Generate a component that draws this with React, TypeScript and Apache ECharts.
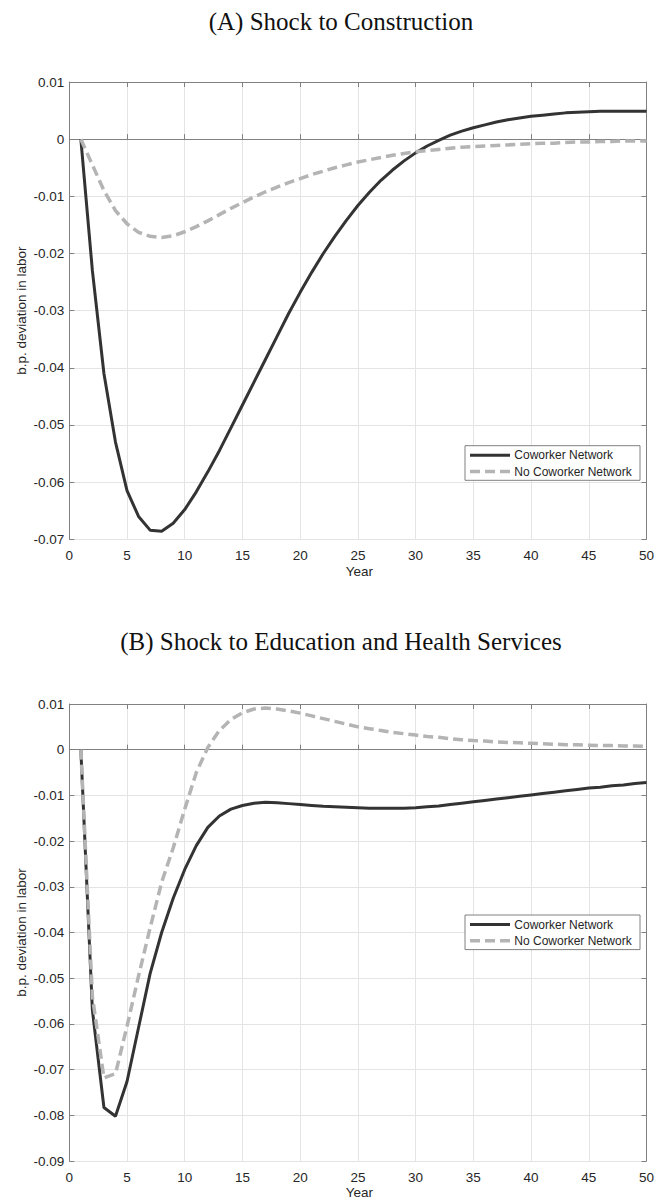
import React, { useEffect, useRef } from "react";
import * as echarts from "echarts";

const years = Array.from({ length: 50 }, (_, i) => i + 1);

const constructionNetwork = [
  0, -0.023, -0.041, -0.053, -0.0615, -0.066, -0.0684, -0.0686, -0.0672, -0.0648,
  -0.0617, -0.0582, -0.0545, -0.0505, -0.0465, -0.0425, -0.0385, -0.0345, -0.0305, -0.0268,
  -0.0233, -0.02, -0.017, -0.0142, -0.0116, -0.0093, -0.0072, -0.0054, -0.0038, -0.0024,
  -0.0012, -0.0002, 0.0007, 0.0014, 0.002, 0.0025, 0.003, 0.0034, 0.0037, 0.004,
  0.0042, 0.0044, 0.0046, 0.0047, 0.0048, 0.0049, 0.0049, 0.0049, 0.0049, 0.0049,
];
const constructionNoNetwork = [
  0, -0.0045, -0.009, -0.0125, -0.0148, -0.0163, -0.017, -0.0172, -0.0169, -0.0162,
  -0.0153, -0.0143, -0.0132, -0.0121, -0.0111, -0.0101, -0.0092, -0.0084, -0.0076, -0.0069,
  -0.0062, -0.0056, -0.005, -0.0045, -0.004, -0.0036, -0.0032, -0.0028, -0.0025, -0.0022,
  -0.002, -0.0018, -0.0016, -0.0014, -0.0013, -0.0012, -0.0011, -0.001, -0.0009, -0.0008,
  -0.0007, -0.0007, -0.0006, -0.0005, -0.0005, -0.0004, -0.0004, -0.0003, -0.0003, -0.0003,
];
const educationNetwork = [
  0, -0.057, -0.0783, -0.0802, -0.0726, -0.0608, -0.049, -0.04, -0.0325, -0.0262,
  -0.021, -0.017, -0.0145, -0.013, -0.0122, -0.0117, -0.0115, -0.0116, -0.0118, -0.012,
  -0.0122, -0.0124, -0.0125, -0.0126, -0.0127, -0.0128, -0.0128, -0.0128, -0.0128, -0.0127,
  -0.0125, -0.0123, -0.012, -0.0117, -0.0114, -0.0111, -0.0108, -0.0105, -0.0102, -0.0099,
  -0.0096, -0.0093, -0.009, -0.0087, -0.0084, -0.0082, -0.0079, -0.0077, -0.0074, -0.0072,
];
const educationNoNetwork = [
  0, -0.054, -0.0718, -0.0709, -0.0605, -0.0495, -0.039, -0.029, -0.0215, -0.013,
  -0.005, 0.0005, 0.0042, 0.0066, 0.0081, 0.0089, 0.0091, 0.0089, 0.0085, 0.008,
  0.0074, 0.0068, 0.0062, 0.0056, 0.005, 0.0046, 0.0042, 0.0038, 0.0035, 0.0032,
  0.0029, 0.0027, 0.0024, 0.0022, 0.002, 0.0019, 0.0017, 0.0016, 0.0015, 0.0014,
  0.0013, 0.0012, 0.0011, 0.0011, 0.001, 0.0009, 0.0009, 0.0008, 0.0008, 0.0007,
];

const titleA = "(A) Shock to Construction";
const titleB = "(B) Shock to Education and Health Services";
const seriesNames = ["Coworker Network", "No Coworker Network"];
const yAxisName = "b.p. deviation in labor";
const xAxisName = "Year";

const TEXT = "#262626";
const AXIS = "#808080";
const GRID = "#e4e4e4";
const SOLID = "#333333";
const DASH = "#b4b4b4";
const SANS = "'Liberation Sans', Arial, Helvetica, sans-serif";
const SERIF = "'Liberation Serif', 'Times New Roman', serif";

const fmt = (v: number) => {
  const r = Math.round(v * 100) / 100;
  return r === 0 ? "0" : String(r);
};

function axesFor(gridIndex: number, yMin: number) {
  const xMain = {
    type: "value",
    gridIndex,
    min: 0,
    max: 50,
    interval: 5,
    position: "bottom",
    axisLine: { show: true, lineStyle: { color: AXIS, width: 1 } },
    axisTick: { show: true, inside: true, length: 5, lineStyle: { color: AXIS } },
    axisLabel: { show: true, color: TEXT, fontFamily: SANS, fontSize: 13.5, margin: 9 },
    splitLine: { show: true, lineStyle: { color: GRID, width: 1 } },
  };
  const xTop = {
    type: "value",
    gridIndex,
    min: 0,
    max: 50,
    interval: 5,
    position: "top",
    axisLine: { show: true, onZero: false, lineStyle: { color: AXIS, width: 1 } },
    axisTick: { show: true, inside: true, length: 5, lineStyle: { color: AXIS } },
    axisLabel: { show: false },
    splitLine: { show: false },
  };
  const yMain = {
    type: "value",
    gridIndex,
    min: yMin,
    max: 0.01,
    interval: 0.01,
    position: "left",
    axisLine: { show: true, onZero: false, lineStyle: { color: AXIS, width: 1 } },
    axisTick: { show: true, inside: true, length: 5, lineStyle: { color: AXIS } },
    axisLabel: { show: true, color: TEXT, fontFamily: SANS, fontSize: 13.5, margin: 5, formatter: fmt },
    splitLine: { show: true, lineStyle: { color: GRID, width: 1 } },
  };
  const yRight = {
    type: "value",
    gridIndex,
    min: yMin,
    max: 0.01,
    interval: 0.01,
    position: "right",
    axisLine: { show: true, onZero: false, lineStyle: { color: AXIS, width: 1 } },
    axisTick: { show: true, inside: true, length: 5, lineStyle: { color: AXIS } },
    axisLabel: { show: false },
    splitLine: { show: false },
  };
  return { x: [xMain, xTop], y: [yMain, yRight] };
}

function legendGraphic(boxTop: number) {
  const left = 465;
  const w = 175;
  const h = 34.6;
  const row1 = boxTop + 9.6;
  const row2 = boxTop + 25.8;
  return [
    {
      type: "rect",
      shape: { x: left, y: boxTop, width: w, height: h },
      style: { fill: "#ffffff", stroke: AXIS, lineWidth: 1 },
      z: 100,
    },
    {
      type: "line",
      shape: { x1: 470, y1: row1, x2: 510, y2: row1 },
      style: { stroke: SOLID, lineWidth: 3 },
      z: 101,
    },
    {
      type: "line",
      shape: { x1: 470, y1: row2, x2: 510, y2: row2 },
      style: { stroke: DASH, lineWidth: 3.5, lineDash: [10, 5] },
      z: 101,
    },
    {
      type: "text",
      x: 514.3,
      y: row1,
      style: { text: seriesNames[0], fill: TEXT, font: `12px ${SANS}`, align: "left", verticalAlign: "middle" },
      z: 101,
    },
    {
      type: "text",
      x: 514.3,
      y: row2,
      style: { text: seriesNames[1], fill: TEXT, font: `12px ${SANS}`, align: "left", verticalAlign: "middle" },
      z: 101,
    },
  ];
}

export default function App() {
  const ref = useRef<HTMLDivElement>(null);

  useEffect(() => {
    if (!ref.current) return;
    const chart = echarts.init(ref.current, undefined, { renderer: "svg", width: 657, height: 1200 });

    const a = axesFor(0, -0.07);
    const b = axesFor(1, -0.09);

    const pairs = (vals: number[]) => years.map((t, i) => [t, vals[i]]);

    const lineSolid = { color: SOLID, width: 3 };
    const lineDash = { color: DASH, width: 3.5, type: [10, 5] };

    const option: any = {
      animation: false,
      backgroundColor: "#ffffff",
      grid: [
        { left: 69.3, top: 82, width: 580, height: 457.3, containLabel: false },
        { left: 69.3, top: 704, width: 580, height: 457, containLabel: false },
      ],
      xAxis: [...a.x, ...b.x],
      yAxis: [...a.y, ...b.y],
      series: [
        {
          name: seriesNames[0],
          type: "line",
          xAxisIndex: 0,
          yAxisIndex: 0,
          data: pairs(constructionNetwork),
          showSymbol: false,
          symbol: "none",
          lineStyle: lineSolid,
          z: 3,
        },
        {
          name: seriesNames[1],
          type: "line",
          xAxisIndex: 0,
          yAxisIndex: 0,
          data: pairs(constructionNoNetwork),
          showSymbol: false,
          symbol: "none",
          lineStyle: lineDash,
          z: 4,
        },
        {
          name: seriesNames[0],
          type: "line",
          xAxisIndex: 2,
          yAxisIndex: 2,
          data: pairs(educationNetwork),
          showSymbol: false,
          symbol: "none",
          lineStyle: lineSolid,
          z: 3,
        },
        {
          name: seriesNames[1],
          type: "line",
          xAxisIndex: 2,
          yAxisIndex: 2,
          data: pairs(educationNoNetwork),
          showSymbol: false,
          symbol: "none",
          lineStyle: lineDash,
          z: 4,
        },
      ],
      graphic: [
        {
          type: "text",
          x: 341,
          y: 21,
          style: { text: titleA, fill: "#111111", font: `25px ${SERIF}`, align: "center", verticalAlign: "middle" },
        },
        {
          type: "text",
          x: 341,
          y: 641,
          style: { text: titleB, fill: "#111111", font: `25px ${SERIF}`, align: "center", verticalAlign: "middle" },
        },
        {
          type: "text",
          x: 21.7,
          y: 310.6,
          rotation: Math.PI / 2,
          style: { text: yAxisName, fill: TEXT, font: `13.5px ${SANS}`, align: "center", verticalAlign: "middle" },
        },
        {
          type: "text",
          x: 21.7,
          y: 932.5,
          rotation: Math.PI / 2,
          style: { text: yAxisName, fill: TEXT, font: `13.5px ${SANS}`, align: "center", verticalAlign: "middle" },
        },
        {
          type: "text",
          x: 359.3,
          y: 571,
          style: { text: xAxisName, fill: TEXT, font: `13.5px ${SANS}`, align: "center", verticalAlign: "middle" },
        },
        {
          type: "text",
          x: 359.3,
          y: 1192.5,
          style: { text: xAxisName, fill: TEXT, font: `13.5px ${SANS}`, align: "center", verticalAlign: "middle" },
        },
        ...legendGraphic(445.7),
        ...legendGraphic(915),
      ],
    };

    chart.setOption(option);
    return () => chart.dispose();
  }, []);

  return (
    <div
      ref={ref}
      style={{ position: "absolute", left: 0, top: 0, width: 657, height: 1200, background: "#fff" }}
    />
  );
}
